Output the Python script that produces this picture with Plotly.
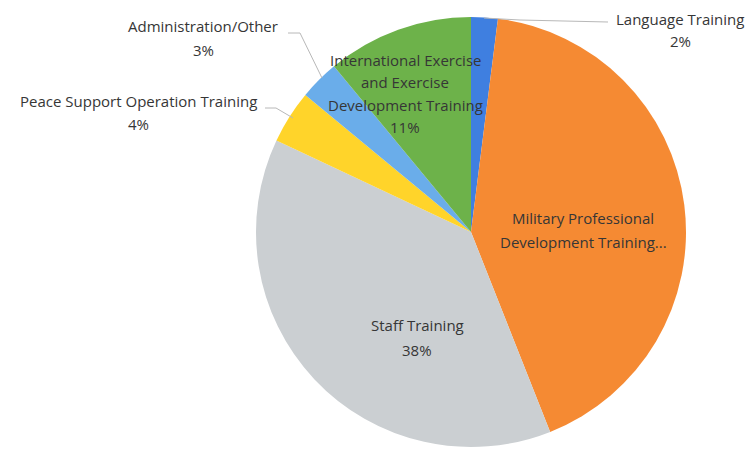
import plotly.graph_objects as go

# The page body has an 8px default margin; work in page pixels and offset.
OFF = 8
W, H = 748, 445

categories = [
    "Language Training",
    "Military Professional Development Training",
    "Staff Training",
    "Peace Support Operation Training",
    "Administration/Other",
    "International Exercise and Exercise Development Training",
]
values = [2, 42, 38, 4, 3, 11]
colors = ["#3F7FE0", "#F58A33", "#CBCFD2", "#FFD42A", "#6AADEA", "#6DB24A"]

# label lines as displayed
label_lines = [
    ["Language Training", "2%"],
    ["Military Professional", "Development Training..."],
    ["Staff Training", "38%"],
    ["Peace Support Operation Training", "4%"],
    ["Administration/Other", "3%"],
    ["International Exercise", "and Exercise", "Development Training", "11%"],
]
# first-line centre positions in page pixels (x, y from top)
label_pos = [(680, 19), (583, 218), (417, 325), (138, 101), (203, 26), (405, 60)]
line_gap = [22, 24, 25, 23, 24, 22.3]

cx, cy, r = 471, 232, 215
fig = go.Figure(go.Pie(
    labels=categories,
    values=values,
    marker=dict(colors=colors, line=dict(width=0)),
    sort=False,
    direction="clockwise",
    rotation=0,
    textinfo="none",
    hoverinfo="label+percent",
    showlegend=False,
    domain=dict(x=[(cx - r - OFF) / W, (cx + r - OFF) / W],
                y=[1 - (cy + r - OFF) / H, 1 - (cy - r - OFF) / H]),
))

font = dict(family="Open Sans, sans-serif", size=15, color="#363636")
anns = []
for lines, (px, py), g in zip(label_lines, label_pos, line_gap):
    for i, t in enumerate(lines):
        yy = py + i * g
        anns.append(dict(x=(px - OFF) / W, y=1 - (yy - OFF) / H, xref="paper", yref="paper",
                         text=t, showarrow=False, font=font, align="center",
                         xanchor="center", yanchor="middle"))

# leader lines (page pixel coords)
leaders = [
    [(520, 20), (608, 22)],
    [(484, 18), (520, 20)],
    [(288, 33), (300, 33)],
    [(300, 33), (322, 78)],
    [(265, 108), (276, 108)],
    [(276, 108), (293, 118)],
]
shapes = []
for (x0, y0), (x1, y1) in leaders:
    shapes.append(dict(type="line", xref="paper", yref="paper",
                       x0=(x0 - OFF) / W, y0=1 - (y0 - OFF) / H,
                       x1=(x1 - OFF) / W, y1=1 - (y1 - OFF) / H,
                       line=dict(color="#b8b8b8", width=1)))

fig.update_layout(
    width=W, height=H,
    margin=dict(l=0, r=0, t=0, b=0),
    paper_bgcolor="white", plot_bgcolor="white",
    annotations=anns, shapes=shapes,
)
fig.write_html("out.html")
